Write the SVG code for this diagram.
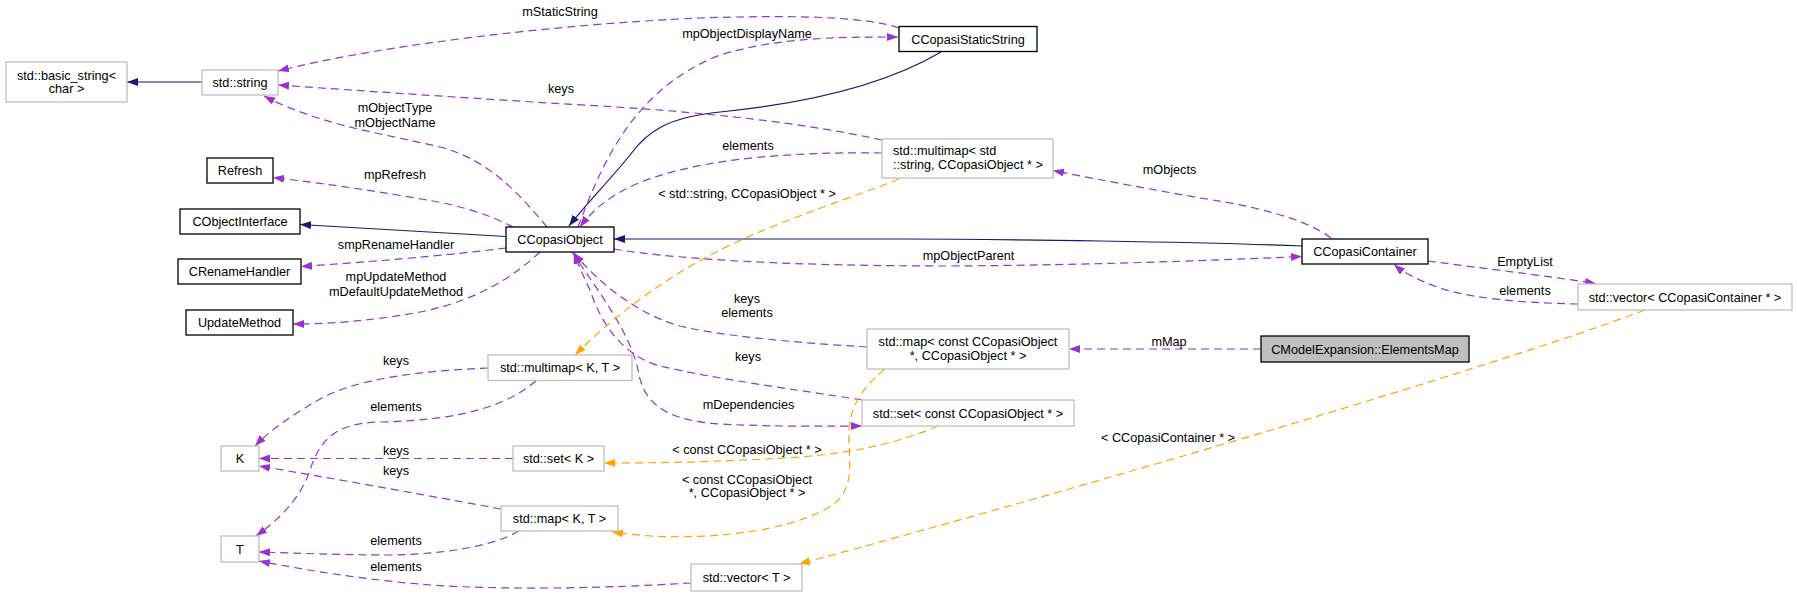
<svg xmlns="http://www.w3.org/2000/svg" width="1797" height="597" viewBox="0 0 1797 597">
<style>
 .g rect{fill:#fff;stroke:#bfbfbf;stroke-width:1.3}
 .k rect{fill:#fff;stroke:#000;stroke-width:1.3}
 .f rect{fill:#bfbfbf;stroke:#000;stroke-width:1.3}
 text{font-family:"Liberation Sans",Arial,Helvetica,sans-serif;font-size:12.7px;fill:#000;text-anchor:middle}
 .l{text-anchor:start}
 .p{fill:none;stroke:#9a32cd;stroke-width:1.2;stroke-dasharray:8,5;marker-end:url(#ap)}
 .o{fill:none;stroke:#ffa500;stroke-width:1.2;stroke-dasharray:8,5;marker-end:url(#ao)}
 .i{fill:none;stroke:#191970;stroke-width:1.2;marker-end:url(#ai)}
</style>
<defs>
 <marker id="ap" markerWidth="12" markerHeight="9" refX="11" refY="4" orient="auto" markerUnits="userSpaceOnUse"><path d="M0,0 L11,4 L0,8 z" fill="#9a32cd"/></marker>
 <marker id="ao" markerWidth="12" markerHeight="9" refX="11" refY="4" orient="auto" markerUnits="userSpaceOnUse"><path d="M0,0 L11,4 L0,8 z" fill="#ffa500"/></marker>
 <marker id="ai" markerWidth="12" markerHeight="9" refX="11" refY="4" orient="auto" markerUnits="userSpaceOnUse"><path d="M0,0 L11,4 L0,8 z" fill="#191970"/></marker>
</defs>
<rect width="1797" height="597" fill="#fff"/>
<g id="connectors">
 <path class="i" d="M202,82 L127,82"/>
 <path class="i" d="M506,236.5 C450,233 380,229 300,224.5"/>
 <path class="i" d="M941,52 C880,88 800,104 720,112 C670,117 648,130 630,155 C610,180 585,205 569,226"/>
 <path class="i" d="M1302,246 C1200,242 1000,239 900,239 L614,239"/>
 <path class="p" d="M899,28 C860,14 760,16 700,18 C560,24 380,45 278,71"/>
 <path class="p" d="M578,227 C600,170 630,90 720,55 C780,37 840,37 898,37"/>
 <path class="p" d="M882,140 C800,122 700,112 600,106 C480,99 380,92 278,85"/>
 <path class="p" d="M547,227 C520,195 490,160 440,147 C380,133 320,125 264,96"/>
 <path class="p" d="M513,227 C490,215 460,205 421,199 C370,190 320,183 273,177.5"/>
 <path class="p" d="M506,248 C450,255 370,262 301,266.5"/>
 <path class="p" d="M540,252 C515,275 480,300 420,312 C370,321 330,324 293,324"/>
 <path class="p" d="M882,153 C820,152 740,155 680,170 C630,182 600,200 580,227"/>
 <path class="p" d="M1331,238 C1300,215 1240,204 1200,198 C1150,189 1100,180 1053,170.5"/>
 <path class="p" d="M614,249 C680,260 800,266 950,266 C1100,265 1220,260 1302,256.5"/>
 <path class="p" d="M1428,261 C1480,268 1540,275 1596,283.5"/>
 <path class="p" d="M1578,304 C1520,303 1470,298 1440,288 C1420,281 1404,273 1394,264.5"/>
 <path class="p" d="M1261,349 L1069,349"/>
 <path class="p" d="M867,347 C800,343 720,336 680,326 C640,315 600,285 574,253"/>
 <path class="p" d="M862,400 C800,390 720,380 660,366 C620,355 600,320 590,290 C583,275 578,265 574,253"/>
 <path class="p" d="M572,252 C590,280 630,330 638,370 C643,400 660,420 720,424 C780,427 820,426 862,426"/>
 <path class="p" d="M488,368 C420,371 360,378 322,398 C295,413 270,430 255,446"/>
 <path class="p" d="M536,381 C515,398 480,420 380,422 C335,423 320,440 310,470 C300,500 278,520 256,536"/>
 <path class="p" d="M513,458.5 L259,458.5"/>
 <path class="p" d="M501,509 C420,494 330,478 259,466"/>
 <path class="p" d="M519,531 C495,545 450,554 390,555 C340,555 295,553 259,552"/>
 <path class="p" d="M691,583 C640,586 560,590 470,587 C400,585 320,573 259,561"/>
 <path class="o" d="M899,179 C860,195 780,220 720,250 C660,280 610,320 575,355"/>
 <path class="o" d="M885,369 C865,385 850,405 849,430 C848,460 856,485 835,503 C800,530 700,545 612,532"/>
 <path class="o" d="M938,426 C900,442 860,452 800,457 C720,462 660,463 604,463"/>
 <path class="o" d="M1645,310 C1500,365 1100,483 799,564"/>
 <g id="edge-labels">
  <text x="560" y="16">mStaticString</text>
  <text x="747" y="38">mpObjectDisplayName</text>
  <text x="561" y="93">keys</text>
  <text x="395" y="112">mObjectType</text>
  <text x="395" y="127">mObjectName</text>
  <text x="748" y="149.5">elements</text>
  <text x="395" y="179">mpRefresh</text>
  <text x="1169.5" y="174">mObjects</text>
  <text x="747" y="198">&lt; std::string, CCopasiObject * &gt;</text>
  <text x="396" y="249">smpRenameHandler</text>
  <text x="968.5" y="260">mpObjectParent</text>
  <text x="1525" y="265.5">EmptyList</text>
  <text x="396" y="281">mpUpdateMethod</text>
  <text x="396" y="295.5">mDefaultUpdateMethod</text>
  <text x="1525" y="295">elements</text>
  <text x="747" y="303">keys</text>
  <text x="747" y="317">elements</text>
  <text x="1169" y="346">mMap</text>
  <text x="748" y="361">keys</text>
  <text x="396" y="364.5">keys</text>
  <text x="748.5" y="408.5">mDependencies</text>
  <text x="396" y="411">elements</text>
  <text x="1168" y="442">&lt; CCopasiContainer * &gt;</text>
  <text x="747" y="453.5">&lt; const CCopasiObject * &gt;</text>
  <text x="396" y="455">keys</text>
  <text x="396" y="475">keys</text>
  <text x="747" y="483.5">&lt; const CCopasiObject</text>
  <text x="747" y="497">*, CCopasiObject * &gt;</text>
  <text x="396" y="544.5">elements</text>
  <text x="396" y="571">elements</text>
 </g>
</g>
<g id="n-basic_string" class="g"><rect x="6" y="62" width="121" height="40"/><text x="66.5" y="79.5">std::basic_string&lt;</text><text x="66.5" y="93">char &gt;</text></g>
<g id="n-std_string" class="g"><rect x="202" y="70" width="76" height="25"/><text x="240" y="87">std::string</text></g>
<g id="n-CCopasiStaticString" class="k"><rect x="899" y="26.5" width="138" height="25"/><text x="968" y="43.5">CCopasiStaticString</text></g>
<g id="n-Refresh" class="k"><rect x="207" y="158" width="66" height="25"/><text x="240" y="175">Refresh</text></g>
<g id="n-CObjectInterface" class="k"><rect x="180" y="209" width="120" height="25"/><text x="240" y="226">CObjectInterface</text></g>
<g id="n-CCopasiObject" class="k"><rect x="506" y="227" width="108" height="25"/><text x="560" y="244">CCopasiObject</text></g>
<g id="n-CRenameHandler" class="k"><rect x="178" y="259" width="123" height="25"/><text x="239.5" y="276">CRenameHandler</text></g>
<g id="n-UpdateMethod" class="k"><rect x="186" y="310" width="107" height="25"/><text x="239.5" y="327">UpdateMethod</text></g>
<g id="n-multimap_string" class="g"><rect x="882" y="139" width="171" height="39"/><text class="l" x="893" y="155">std::multimap&lt; std</text><text class="l" x="893" y="168.5">::string, CCopasiObject * &gt;</text></g>
<g id="n-CCopasiContainer" class="k"><rect x="1302" y="239" width="126" height="25"/><text x="1365" y="256">CCopasiContainer</text></g>
<g id="n-vector_container" class="g"><rect x="1578" y="284" width="214" height="26"/><text x="1685" y="301.5">std::vector&lt; CCopasiContainer * &gt;</text></g>
<g id="n-ElementsMap" class="f"><rect x="1261" y="336" width="208" height="26"/><text x="1365" y="353.5">CModelExpansion::ElementsMap</text></g>
<g id="n-map_const" class="g"><rect x="867" y="329" width="202" height="40"/><text x="968" y="345.5">std::map&lt; const CCopasiObject</text><text x="968" y="360">*, CCopasiObject * &gt;</text></g>
<g id="n-multimap_KT" class="g"><rect x="488" y="355" width="144" height="25.5"/><text x="560" y="372">std::multimap&lt; K, T &gt;</text></g>
<g id="n-set_const" class="g"><rect x="862" y="400" width="212" height="26"/><text x="968" y="417.5">std::set&lt; const CCopasiObject * &gt;</text></g>
<g id="n-K" class="g"><rect x="221" y="446" width="38" height="25"/><text x="240" y="463">K</text></g>
<g id="n-set_K" class="g"><rect x="513" y="446" width="91" height="25"/><text x="558.5" y="463">std::set&lt; K &gt;</text></g>
<g id="n-T" class="g"><rect x="221" y="536" width="38" height="26"/><text x="240" y="553.5">T</text></g>
<g id="n-map_KT" class="g"><rect x="501" y="506" width="117" height="25"/><text x="559.5" y="523">std::map&lt; K, T &gt;</text></g>
<g id="n-vector_T" class="g"><rect x="691" y="564" width="111" height="27"/><text x="746.5" y="582">std::vector&lt; T &gt;</text></g>
</svg>
